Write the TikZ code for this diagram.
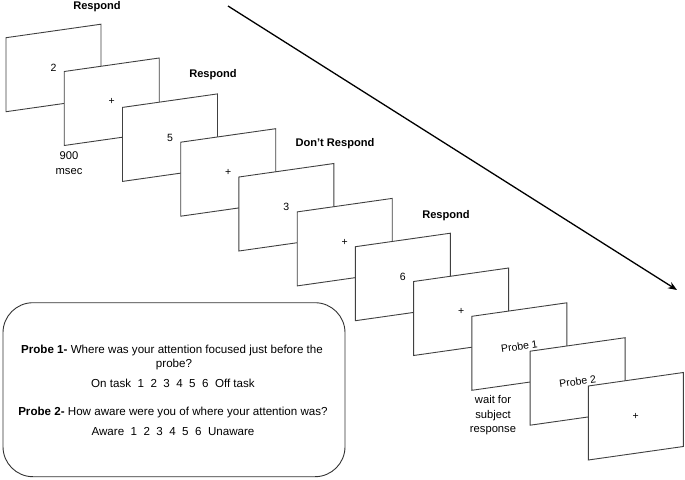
\documentclass[tikz,border=0pt]{standalone}
\usepackage{fontspec}
\setmainfont{Liberation Sans}
\usetikzlibrary{arrows.meta}
\tikzset{
  card/.style={draw=black!75, fill=white, line width=0.9pt},
  cardlabel/.style={font=\fontsize{10.5}{12}\selectfont, inner sep=0pt},
  cue/.style={font=\bfseries\fontsize{11.1}{13}\selectfont, inner sep=0pt},
  note/.style={font=\fontsize{11.2}{14.5}\selectfont, align=center, inner sep=0pt},
  boxtext/.style={font=\fontsize{11.6}{13}\selectfont, inner sep=0pt}
}
\begin{document}
\begin{tikzpicture}[x=1pt,y=-1pt]
\useasboundingbox (0,0) rectangle (685,479);
% time arrow
\coordinate (tstart) at (228,6);
\coordinate (tend) at (677,290);
\draw[line width=1.3pt, -{Stealth[length=9pt,width=7pt]}] (tstart) -- (tend);
% cards
\draw[card] (6,37.7) -- ++(95,-13.5) -- ++(0,74) -- ++(-95,13.5) -- cycle;
\node[cardlabel] (c1) at (53.5,68) {2};
\draw[card] (64.2,71.5) -- ++(95,-13.5) -- ++(0,74) -- ++(-95,13.5) -- cycle;
\node[cardlabel] (c2) at (111.7,101.8) {+};
\draw[card] (122.5,107.4) -- ++(95,-13.5) -- ++(0,74) -- ++(-95,13.5) -- cycle;
\node[cardlabel] (c3) at (170,137.6) {5};
\draw[card] (180.7,142.2) -- ++(95,-13.5) -- ++(0,74) -- ++(-95,13.5) -- cycle;
\node[cardlabel] (c4) at (228.2,172.4) {+};
\draw[card] (238.9,177.0) -- ++(95,-13.5) -- ++(0,74) -- ++(-95,13.5) -- cycle;
\node[cardlabel] (c5) at (286.4,207.2) {3};
\draw[card] (297.2,211.9) -- ++(95,-13.5) -- ++(0,74) -- ++(-95,13.5) -- cycle;
\node[cardlabel] (c6) at (344.7,242.1) {+};
\draw[card] (355.4,246.7) -- ++(95,-13.5) -- ++(0,74) -- ++(-95,13.5) -- cycle;
\node[cardlabel] (c7) at (402.9,276.9) {6};
\draw[card] (413.6,281.5) -- ++(95,-13.5) -- ++(0,74) -- ++(-95,13.5) -- cycle;
\node[cardlabel] (c8) at (461.1,311.7) {+};
\draw[card] (471.8,316.3) -- ++(95,-13.5) -- ++(0,74) -- ++(-95,13.5) -- cycle;
\node[cardlabel, rotate=8] (c9) at (519.3,346.5) {Probe 1};
\draw[card] (530.1,351.2) -- ++(95,-13.5) -- ++(0,74) -- ++(-95,13.5) -- cycle;
\node[cardlabel, rotate=8] (c10) at (577.6,381.4) {Probe 2};
\draw[card] (588.3,386.0) -- ++(95,-13.5) -- ++(0,74) -- ++(-95,13.5) -- cycle;
\node[cardlabel] (c11) at (635.8,416.2) {+};
% cues above the cards
\node[cue] (r1) at (97,7) {Respond};
\node[cue] (r2) at (213,75) {Respond};
\node[cue] (r3) at (335,144) {Don't Respond};
\node[cue] (r4) at (446,215.5) {Respond};
\node[note] (dur) at (69,163) {900\\msec};
\node[note] (wait) at (493,415.5) {wait for\\subject\\response};
% probe questions
\node[draw=black!80, line width=0.9pt, rounded corners=30pt, minimum width=342pt, minimum height=174pt] (probebox) at (174,389.7) {};
\node[boxtext] (q1) at (172,350.7) {\textbf{Probe 1-} Where was your attention focused just before the};
\node[boxtext] (q1b) at (174,364) {probe?};
\node[boxtext] (s1) at (173,383.3) {On task\ \ 1\ \ 2\ \ 3\ \ 4\ \ 5\ \ 6\ \ Off task};
\node[boxtext] (q2) at (173,412.7) {\textbf{Probe 2-} How aware were you of where your attention was?};
\node[boxtext] (s2) at (173,431.7) {Aware\ \ 1\ \ 2\ \ 3\ \ 4\ \ 5\ \ 6\ \ Unaware};
\end{tikzpicture}
\end{document}
